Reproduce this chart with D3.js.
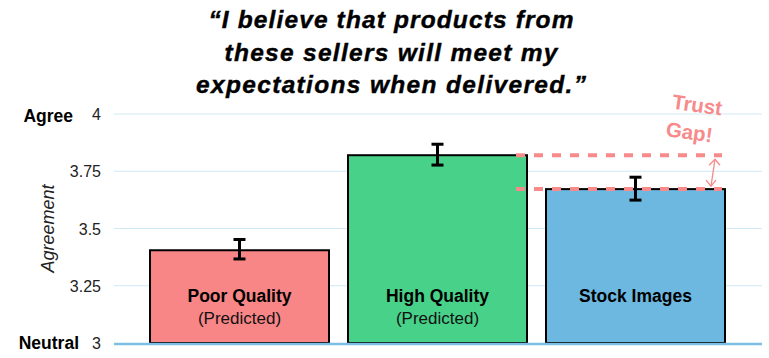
<!DOCTYPE html>
<html><head><meta charset="utf-8">
<script src="https://cdn.jsdelivr.net/npm/d3@7"></script>
<style>body{margin:0;background:#fff}svg{display:block}text{font-family:"Liberation Sans",Arial,Helvetica,sans-serif}</style>
</head><body><svg id="c" width="769" height="358"></svg>
<script>
const titleLines = ["\u201cI believe that products from", "these sellers will meet my", "expectations when delivered.\u201d"];
const categories = ["Poor Quality", "High Quality", "Stock Images"];
const subLabels = ["(Predicted)", "(Predicted)", ""];
const means = [3.405, 3.82, 3.672];
const errLow = [3.367, 3.777, 3.624];
const errHigh = [3.452, 3.868, 3.724];
const colors = ["#f98686", "#48d189", "#6cb8e0"];
const yTicks = [3, 3.25, 3.5, 3.75, 4];
const yTickLabels = ["3", "3.25", "3.5", "3.75", "4"];

const svg = d3.select("#c");
const y = d3.scaleLinear().domain([3, 4]).range([343, 114]);
const x = d3.scaleBand().domain(categories).range([140.5, 734.5]).paddingInner(0.096).paddingOuter(0.048);

// gridlines
svg.append("g").selectAll("line").data(yTicks.filter(d => d > 3)).join("line")
  .attr("x1", 114).attr("x2", 762).attr("y1", d => y(d)).attr("y2", d => y(d))
  .attr("stroke", "#cfe9f6").attr("stroke-width", 1.2);

// title
const titleWidths = [365, 333, 390];
svg.append("g").selectAll("text").data(titleLines).join("text")
  .attr("x", 391).attr("y", (d, i) => 28 + i * 32.5)
  .attr("text-anchor", "middle").attr("font-size", 24.5).attr("font-weight", "bold").attr("font-style", "italic")
  .attr("textLength", (d, i) => titleWidths[i]).attr("lengthAdjust", "spacing")
  .attr("fill", "#000").attr("stroke", "#000").attr("stroke-width", 0.4).text(d => d);

// y tick labels
svg.append("g").selectAll("text").data(yTicks).join("text")
  .attr("x", 101).attr("y", d => y(d) + 6).attr("text-anchor", "end")
  .attr("font-size", 16).attr("fill", "#222").text((d, i) => yTickLabels[i]);

svg.append("text").attr("x", 73).attr("y", y(4) + 8).attr("text-anchor", "end")
  .attr("font-size", 17.5).attr("font-weight", "bold").text("Agree");
svg.append("text").attr("x", 79).attr("y", y(3) + 6).attr("text-anchor", "end")
  .attr("font-size", 17.5).attr("font-weight", "bold").text("Neutral");
svg.append("text").attr("transform", `translate(54,${(y(3.25)+y(3.75))/2}) rotate(-90)`)
  .attr("text-anchor", "middle").attr("font-size", 18).attr("font-style", "italic").attr("fill", "#222").text("Agreement");

// bars
svg.append("g").selectAll("rect").data(categories).join("rect")
  .attr("x", d => x(d)).attr("width", x.bandwidth())
  .attr("y", (d, i) => y(means[i])).attr("height", (d, i) => y(3) - y(means[i]))
  .attr("fill", (d, i) => colors[i]).attr("stroke", "#000").attr("stroke-width", 2);

// baseline
svg.append("line").attr("x1", 114).attr("x2", 762).attr("y1", y(3) + 1).attr("y2", y(3) + 1)
  .attr("stroke", "#7dbfe4").attr("stroke-width", 2.5);

// dashed trust gap lines
const gapLines = [means[1], means[2]];
svg.append("g").selectAll("line").data(gapLines).join("line")
  .attr("x1", 516).attr("x2", 722).attr("y1", d => y(d)).attr("y2", d => y(d))
  .attr("stroke", "#f78a8a").attr("stroke-width", 4).attr("stroke-dasharray", "9,9");

// error bars
const eb = svg.append("g").attr("stroke", "#000").attr("stroke-width", 3);
categories.forEach((c, i) => {
  const cx = x(c) + x.bandwidth() / 2;
  eb.append("line").attr("x1", cx).attr("x2", cx).attr("y1", y(errLow[i])).attr("y2", y(errHigh[i]));
  eb.append("line").attr("x1", cx - 6).attr("x2", cx + 6).attr("y1", y(errLow[i])).attr("y2", y(errLow[i]));
  eb.append("line").attr("x1", cx - 6).attr("x2", cx + 6).attr("y1", y(errHigh[i])).attr("y2", y(errHigh[i]));
});

// bar labels
svg.append("g").selectAll("text").data(categories).join("text")
  .attr("x", d => x(d) + x.bandwidth() / 2).attr("y", 302).attr("text-anchor", "middle")
  .attr("font-size", 17.5).attr("font-weight", "bold").text(d => d);
svg.append("g").selectAll("text").data(categories).join("text")
  .attr("x", d => x(d) + x.bandwidth() / 2).attr("y", 323.5).attr("text-anchor", "middle")
  .attr("font-size", 17).attr("fill", "#111").text((d, i) => subLabels[i]);

// arrow
const ay1 = y(means[1]) + 4, ay2 = y(means[2]) - 3;
const ar = svg.append("g").attr("stroke", "#f78a8a").attr("stroke-width", 1.3).attr("fill", "none");
ar.append("line").attr("x1", 715).attr("y1", ay1).attr("x2", 711).attr("y2", ay2);
ar.append("path").attr("d", `M709,${ay1+6} L715,${ay1} L720,${ay1+6}`);
ar.append("path").attr("d", `M706,${ay2-6} L711,${ay2} L716,${ay2-6}`);

// Trust Gap text
const tg = svg.append("g").attr("transform", "translate(695,121) rotate(8)");
tg.append("text").attr("x", 0).attr("y", -9).attr("text-anchor", "middle").attr("font-size", 20.5)
  .attr("font-weight", "bold").attr("fill", "#f78a8a").text("Trust");
tg.append("text").attr("x", -4).attr("y", 19).attr("text-anchor", "middle").attr("font-size", 20.5)
  .attr("font-weight", "bold").attr("fill", "#f78a8a").text("Gap!");
</script></body></html>
